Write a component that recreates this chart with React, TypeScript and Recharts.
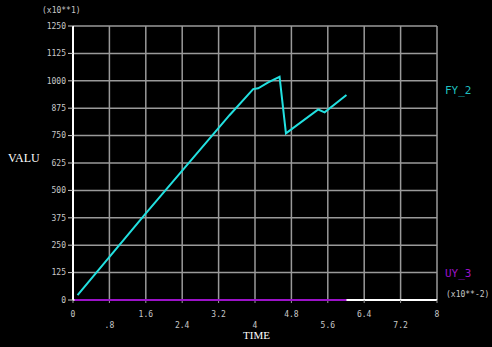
import { CartesianGrid, Line, LineChart, XAxis, YAxis } from "recharts";

const xTicks = [0, 0.8, 1.6, 2.4, 3.2, 4, 4.8, 5.6, 6.4, 7.2, 8];
const xTickLabels = ["0", ".8", "1.6", "2.4", "3.2", "4", "4.8", "5.6", "6.4", "7.2", "8"];
const yTicks = [0, 125, 250, 375, 500, 625, 750, 875, 1000, 1125, 1250];

// time (x10**-2) and values (x10**1)
const time = [0.1, 1.6, 3.44, 3.96, 4.07, 4.29, 4.54, 4.68, 5.39, 5.53, 6.01];
const fy2 = [22, 395, 843, 962, 966, 993, 1018, 760, 869, 856, 935];
const uy3 = [0, 0, 0, 0, 0, 0, 0, 0, 0, 0, 0];

const fyData = time.map((t, i) => ({ t, v: fy2[i] }));
const uyData = [{ t: 0.03, v: uy3[0] }, ...time.slice(1).map((t, i) => ({ t, v: uy3[i + 1] }))];

const tickFont = "'DejaVu Sans Mono', monospace";

function XTick(props: any) {
  const { x, y, payload, index } = props;
  const label = xTickLabels[xTicks.indexOf(payload.value)] ?? String(payload.value);
  const dy = index % 2 === 0 ? 12 : 23;
  return (
    <text x={x} y={y + dy} textAnchor="middle" fill="#c8c8c8" fontSize={8} fontFamily={tickFont}>
      {label}
    </text>
  );
}

const txt = (extra: React.CSSProperties): React.CSSProperties => ({
  position: "absolute",
  whiteSpace: "nowrap",
  lineHeight: 1,
  ...extra,
});

export default function App() {
  return (
    <div style={{ position: "fixed", left: 0, top: 0, width: 492, height: 347, background: "#000" }}>
      <LineChart width={492} height={347} data={fyData} margin={{ top: 26, right: 55, bottom: 0, left: 0 }}>
        <CartesianGrid stroke="#9a9a9a" strokeWidth={1.5} />
        <XAxis
          dataKey="t"
          type="number"
          domain={[0, 8]}
          ticks={xTicks}
          height={47}
          interval={0}
          axisLine={{ stroke: "#ffffff", strokeWidth: 2 }}
          tickLine={{ stroke: "#9a9a9a" }}
          tickSize={3}
          tick={<XTick />}
        />
        <YAxis
          type="number"
          domain={[0, 1250]}
          ticks={yTicks}
          width={73}
          interval={0}
          axisLine={{ stroke: "#ffffff", strokeWidth: 2 }}
          tickLine={{ stroke: "#c8c8c8" }}
          tickSize={5}
          tick={{ fill: "#c8c8c8", fontSize: 8, fontFamily: tickFont }}
        />
        <Line
          data={fyData}
          dataKey="v"
          stroke="#22e0e0"
          strokeWidth={2}
          dot={false}
          isAnimationActive={false}
        />
        <Line
          data={uyData}
          dataKey="v"
          stroke="#9b12c8"
          strokeWidth={2}
          dot={false}
          isAnimationActive={false}
          {...({ zIndex: 700 } as any)}
        />
      </LineChart>
      <div style={txt({ left: 42, top: 7, color: "#c8c8c8", fontSize: 8, fontFamily: tickFont })}>(x10**1)</div>
      <div style={txt({ left: 8, top: 152, color: "#fff", fontSize: 12, fontFamily: "'Liberation Serif', serif" })}>VALU</div>
      <div style={txt({ left: 243, top: 330, color: "#fff", fontSize: 11, fontFamily: "'Liberation Serif', serif" })}>TIME</div>
      <div style={txt({ left: 445, top: 85, color: "#1fbfbf", fontSize: 11, fontFamily: tickFont })}>FY_2</div>
      <div style={txt({ left: 445, top: 268, color: "#9b12c8", fontSize: 11, fontFamily: tickFont })}>UY_3</div>
      <div style={txt({ left: 446, top: 291, color: "#c8c8c8", fontSize: 8, fontFamily: tickFont })}>(x10**-2)</div>
    </div>
  );
}
